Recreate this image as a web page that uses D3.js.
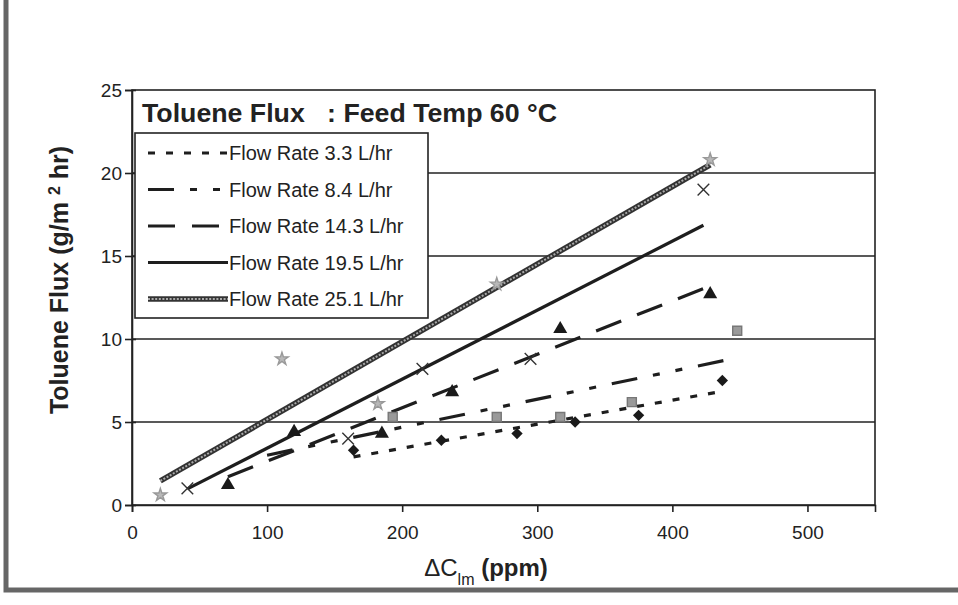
<!DOCTYPE html>
<html>
<head>
<meta charset="utf-8">
<script src="https://cdn.jsdelivr.net/npm/d3@7/dist/d3.min.js"></script>
<style>
body { margin: 0; background: #fff; }
text { font-family: Arial, "Liberation Sans", sans-serif; fill: #222; }
</style>
</head>
<body>
<div id="viz"></div>
<script>
// values
var seriesNames = ["Flow Rate 3.3 L/hr", "Flow Rate 8.4 L/hr", "Flow Rate 14.3 L/hr",
    "Flow Rate 19.5 L/hr", "Flow Rate 25.1 L/hr"];

// measured points (dC_lm in ppm, flux in g/m2 hr)
var rate33X = [164, 229, 285, 328, 375, 437];
var rate33Y = [3.3, 3.9, 4.3, 5.0, 5.4, 7.5];
var rate84X = [193, 270, 317, 370, 448];
var rate84Y = [5.3, 5.3, 5.3, 6.2, 10.5];
var rate143X = [71, 120, 185, 237, 317, 428];
var rate143Y = [1.2, 4.4, 4.3, 6.8, 10.6, 12.7];
var rate195X = [41, 160, 215, 295, 423];
var rate195Y = [1.0, 4.0, 8.2, 8.8, 19.0];
var rate251X = [21, 111, 182, 270, 428];
var rate251Y = [0.6, 8.8, 6.1, 13.3, 20.8];

// linear trendlines, start and end of each line
var fitX0 = [164, 100, 71, 41, 21];
var fitY0 = [2.9, 3.0, 1.7, 0.97, 1.45];
var fitX1 = [437, 447, 428, 423, 428];
var fitY1 = [6.85, 8.85, 13.2, 16.85, 20.5];

var xTicks = [0, 100, 200, 300, 400, 500];
var yTicks = [0, 5, 10, 15, 20, 25];

var margin = {top: 90, right: 83, bottom: 100, left: 132},
    width = 958 - margin.left - margin.right,
    height = 605 - margin.top - margin.bottom;

var svg = d3.select("#viz")
    .append("svg")
    .attr("width", 958)
    .attr("height", 605);

// scanned page border
svg.append("rect")
    .attr("x", 6).attr("y", -20)
    .attr("width", 1000).attr("height", 610)
    .attr("fill", "none")
    .attr("stroke", "#666")
    .attr("stroke-width", 5);

var g = svg.append("g")
    .attr("transform", "translate(" + margin.left + "," + margin.top + ")");

var x = d3.scaleLinear().domain([0, 550]).range([0, width]);
var y = d3.scaleLinear().domain([0, 25]).range([height, 0]);

// gridlines
g.append("g")
    .selectAll("line")
    .data(yTicks.slice(1, -1))
    .enter().append("line")
    .attr("x1", 0).attr("x2", width)
    .attr("y1", function (d) { return y(d); })
    .attr("y2", function (d) { return y(d); })
    .attr("stroke", "#222")
    .attr("stroke-width", 1.6);

// plot area frame
g.append("rect")
    .attr("width", width).attr("height", height)
    .attr("fill", "none")
    .attr("stroke", "#222")
    .attr("stroke-width", 1.6);

// axes
var xAxis = g.append("g")
    .attr("transform", "translate(0," + height + ")")
    .call(d3.axisBottom(x).tickValues(xTicks).tickSize(7).tickPadding(14));
var yAxis = g.append("g")
    .call(d3.axisLeft(y).tickValues(yTicks).tickSize(7).tickPadding(3));
yAxis.selectAll(".tick line").attr("x1", 4);
[xAxis, yAxis].forEach(function (a) {
    a.selectAll("path, line").attr("stroke", "#222").attr("stroke-width", 1.6);
    a.selectAll("text").style("font-size", "19px").attr("fill", "#333");
});

// line styles for each flow rate
var dashes = ["7,11", "26,16,7,16,7,16", "27,17", null, null];

function drawStyled(sel, i, sw) {
    if (i === 4) {
        sel.clone().attr("stroke", "#333").attr("stroke-width", sw + 2.4);
        sel.attr("stroke", "#aaa").attr("stroke-width", sw - 1.2)
            .attr("stroke-dasharray", "2,1.6");
        sel.raise();
    } else {
        sel.attr("stroke", "#1e1e1e").attr("stroke-width", sw)
            .attr("stroke-dasharray", dashes[i]);
    }
}

// trendlines
var line = d3.line()
    .x(function (d) { return x(d[0]); })
    .y(function (d) { return y(d[1]); });
var lines = g.append("g");
seriesNames.forEach(function (name, i) {
    var p = lines.append("path")
        .datum([[fitX0[i], fitY0[i]], [fitX1[i], fitY1[i]]])
        .attr("d", line)
        .attr("fill", "none");
    drawStyled(p, i, 3.2);
});

// markers
var markerSets = [
    {xs: rate33X, ys: rate33Y, type: d3.symbolSquare, size: 64, rot: 45, fill: "#1a1a1a", stroke: "none"},
    {xs: rate84X, ys: rate84Y, type: d3.symbolSquare, size: 81, rot: 0, fill: "#9a9a9a", stroke: "#777"},
    {xs: rate143X, ys: rate143Y, type: d3.symbolTriangle, size: 85, rot: 0, fill: "#1a1a1a", stroke: "none"},
    {xs: rate195X, ys: rate195Y, type: d3.symbolX, size: 90, rot: 0, fill: "none", stroke: "#333"},
    {xs: rate251X, ys: rate251Y, type: d3.symbolStar, size: 50, rot: 0, fill: "#b8b8b8", stroke: "#999"}
];
markerSets.forEach(function (m) {
    g.append("g")
        .selectAll("path")
        .data(d3.zip(m.xs, m.ys))
        .enter().append("path")
        .attr("d", d3.symbol().type(m.type).size(m.size))
        .attr("transform", function (d) {
            return "translate(" + x(d[0]) + "," + y(d[1]) + ") rotate(" + m.rot + ")";
        })
        .attr("fill", m.fill)
        .attr("stroke", m.stroke)
        .attr("stroke-width", 1.4);
});

// title and legend box
g.append("text")
    .attr("x", 10).attr("y", 32)
    .attr("textLength", 415)
    .attr("lengthAdjust", "spacingAndGlyphs")
    .style("font-size", "25px")
    .style("font-weight", "bold")
    .attr("fill", "#333")
    .attr("xml:space", "preserve")
    .text("Toluene Flux   : Feed Temp 60 \u00B0C");

var legend = g.append("g").attr("transform", "translate(3,43)");
legend.append("rect")
    .attr("width", 293).attr("height", 185)
    .attr("fill", "#fff")
    .attr("stroke", "#222")
    .attr("stroke-width", 1.6);
seriesNames.forEach(function (name, i) {
    var ly = 20 + i * 36.5;
    var p = legend.append("path")
        .attr("d", "M13," + ly + "H93")
        .attr("fill", "none");
    drawStyled(p, i, 3);
    legend.append("text")
        .attr("x", 94).attr("y", ly + 7)
        .style("font-size", "20px")
        .attr("fill", "#333")
        .text(name);
});

// axis titles
var yTitle = svg.append("text")
    .attr("transform", "translate(68,280) rotate(-90)")
    .attr("text-anchor", "middle")
    .style("font-size", "25px")
    .style("font-weight", "bold")
    .attr("fill", "#333");
yTitle.append("tspan").text("Toluene Flux (g/m ");
yTitle.append("tspan").attr("baseline-shift", "super").style("font-size", "16px").text("2");
yTitle.append("tspan").text(" hr)");

var xTitle = svg.append("text")
    .attr("x", 486).attr("y", 576)
    .attr("text-anchor", "middle")
    .style("font-size", "24px")
    .style("font-weight", "bold")
    .attr("fill", "#333");
xTitle.append("tspan").style("font-weight", "normal").text("\u0394C");
xTitle.append("tspan").attr("baseline-shift", "sub").style("font-size", "16px").style("font-weight", "normal").text("lm");
xTitle.append("tspan").text(" (ppm)");
</script>
</body>
</html>
